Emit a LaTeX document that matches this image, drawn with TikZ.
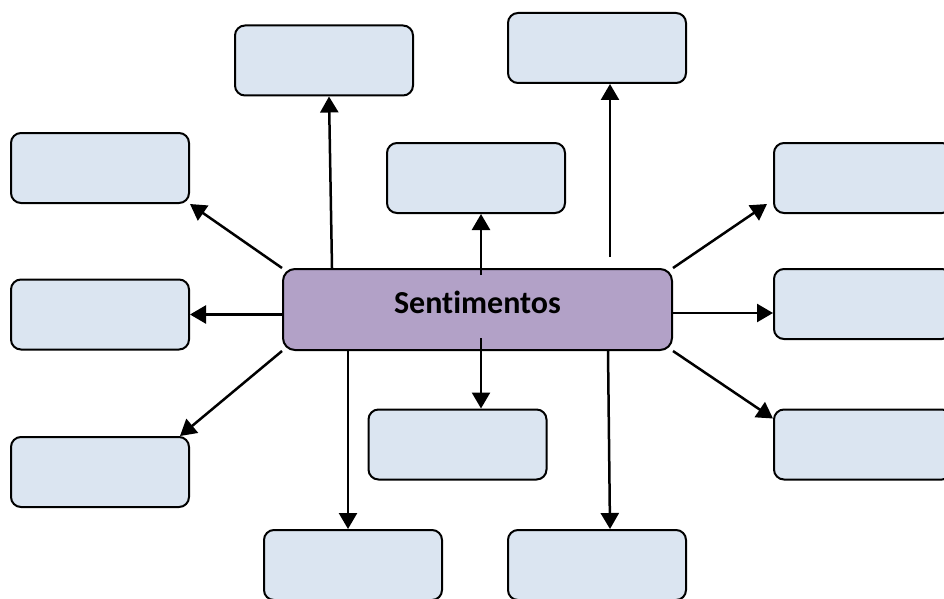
\documentclass[tikz,border=0pt]{standalone}
\usepackage{fontspec}
\setmainfont{Carlito}[Ligatures=NoCommon]
\usetikzlibrary{arrows.meta}
\definecolor{boxblue}{HTML}{DBE5F1}
\definecolor{hubpurple}{HTML}{B2A1C7}

\begin{document}
\begin{tikzpicture}[x=1pt,y=-1pt,
  box/.style={draw,line width=2pt,fill=boxblue,rounded corners=10pt,
    minimum width=178pt,minimum height=70pt,inner sep=0pt},
  hub/.style={draw,line width=2pt,fill=hubpurple,rounded corners=12pt,
    minimum width=389pt,minimum height=81pt,text depth=14pt,
    font=\bfseries\fontsize{32}{36}\selectfont},
  arr/.style={line width=2.5pt,-{Triangle[length=16pt,width=18pt]}}]
  \clip (0,0) rectangle (944,599);
  % central box
  \node[hub] (c) at (477.5,309.5) {Sentimentos};
  % empty boxes around it
  \node[box] (l1) at (100,168) {};
  \node[box] (l2) at (100,314.5) {};
  \node[box] (l3) at (100,472) {};
  \node[box] (t1) at (324,60.5) {};
  \node[box] (tm) at (476,178) {};
  \node[box] (t2) at (597,48) {};
  \node[box] (r1) at (863,178) {};
  \node[box] (r2) at (863,304) {};
  \node[box] (r3) at (863,444.5) {};
  \node[box] (bm) at (457.5,444.5) {};
  \node[box] (bl) at (353,565) {};
  \node[box] (br) at (597,565) {};
  % arrows to the left
  \draw[arr] (c.north west) -- (l1.south east);
  \draw[arr] (c.west |- l2.east) -- (l2.east);
  \draw[arr] (c.south west) -- ([xshift=-10pt]l3.north east);
  % arrows upwards
  \draw[arr] ([xshift=50pt]c.north west) -- ([xshift=5pt]t1.south);
  \draw[arr] ([xshift=5pt,yshift=-7pt]c.north -| tm.south) -- ([xshift=5pt]tm.south);
  \draw[arr] ([xshift=13pt,yshift=11pt]c.north -| t2.south) -- ([xshift=13pt]t2.south);
  % arrows to the right
  \draw[arr] (c.north east) -- ([xshift=-6pt,yshift=10pt]r1.south west);
  \draw[arr] ([yshift=-3.5pt]c.east) -- ([yshift=-3.5pt]c.east -| r2.west);
  \draw[arr] (c.south east) -- ([yshift=-10pt]r3.north west);
  % arrows downwards
  \draw[arr] ([xshift=23.5pt,yshift=13pt]c.south -| bm.north) -- ([xshift=23.5pt]bm.north);
  \draw[arr] ([xshift=-5pt]c.south -| bl.north) -- ([xshift=-5pt]bl.north);
  \draw[arr] ([xshift=11pt]c.south -| br.north) -- ([xshift=13pt]br.north);
\end{tikzpicture}
\end{document}
